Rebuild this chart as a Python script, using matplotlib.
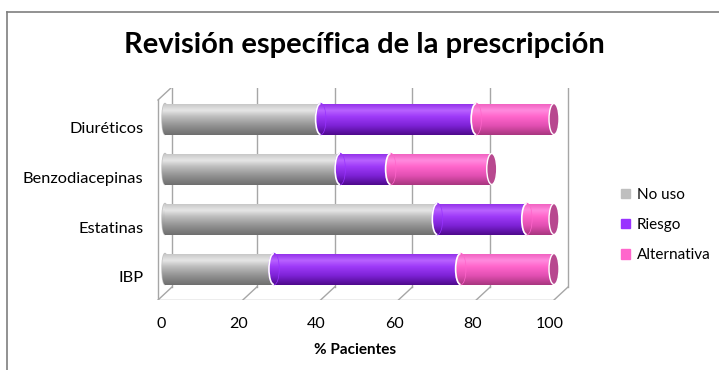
import numpy as np
import matplotlib
matplotlib.use('Agg')
import matplotlib.pyplot as plt
import matplotlib.transforms as mtransforms
from matplotlib.colors import LinearSegmentedColormap
from matplotlib.patches import Ellipse, Arc, Patch
from matplotlib.lines import Line2D

plt.rcParams['font.family'] = ['Lato', 'DejaVu Sans']

# datos (de abajo hacia arriba)
categorias = ['IBP', 'Estatinas', 'Benzodiacepinas', 'Diuréticos']
no_uso = [28, 70, 45, 40]
riesgo = [48, 23, 13, 40]
alternativa = [24, 7, 26, 20]
series = ['No uso', 'Riesgo', 'Alternativa']
xticks = [0, 20, 40, 60, 80, 100]

colores = ['#bfbfbf', '#9933ff', '#ff66cc']
cmaps = [
    LinearSegmentedColormap.from_list('gris', [(0, '#6e6e6e'), (0.3, '#929292'), (0.6, '#bdbdbd'),
                                               (0.8, '#e6e6e6'), (1, '#c8c8c8')]),
    LinearSegmentedColormap.from_list('morado', [(0, '#4f0a8c'), (0.3, '#7d22d6'), (0.6, '#9e3af8'),
                                                 (0.8, '#b862ff'), (1, '#9432ea')]),
    LinearSegmentedColormap.from_list('rosa', [(0, '#a8367f'), (0.3, '#e24fb2'), (0.6, '#ff66cc'),
                                               (0.8, '#ff8ade'), (1, '#f262c2')]),
]
color_tapa = '#b8488f'

W, H = 719, 370
fig = plt.figure(figsize=(7.19, 3.70), dpi=100)


def fx(px):
    return px / W


def fy(py):
    return 1 - py / H


ppx = 3.89  # pixeles por unidad de x
ax = fig.add_axes([fx(165 - 2 * ppx), fy(300), 106 * ppx / W, 212 / H])
ax.set_xlim(-2, 104)
ax.set_ylim(-0.62, 3.62)

alto = 0.62
cw = 10 / ppx   # ancho de la tapa en unidades de x
grad = np.linspace(0, 1, 100).reshape(-1, 1)


def shade(patch, extent, cmap, z):
    im = ax.imshow(grad, extent=extent, origin='lower', cmap=cmap, aspect='auto',
                   zorder=z, interpolation='bilinear')
    im.set_clip_path(patch)


# marco 3D
dx, dy = 14 / ppx, 13 / 50
y0, ytop = -0.62, 3.38
xl = -1.8
gc = '#a6a6a6'
ax.plot([xl, 100], [y0, y0], color=gc, lw=1, zorder=1)
for x in [xl] + xticks[1:]:
    ax.plot([x, x + dx], [y0, y0 + dy], color=gc, lw=1, zorder=1)
    ax.plot([x + dx, x + dx], [y0 + dy, ytop + dy], color=gc, lw=1, zorder=1)
ax.plot([xl, xl], [y0, ytop], color=gc, lw=1, zorder=1)
ax.plot([xl, xl + dx], [ytop, ytop + dy], color=gc, lw=1, zorder=1)

valores = [no_uso, riesgo, alternativa]
y = np.arange(len(categorias))
izq = np.zeros(len(categorias))
for s, vals in enumerate(valores):
    bars = ax.barh(y, vals, left=izq, height=alto, color=colores[s], zorder=3)
    for i, b in enumerate(bars):
        x0 = izq[i]
        shade(b, (x0, x0 + vals[i], y[i] - alto / 2, y[i] + alto / 2), cmaps[s], 3)
        if s == 0:
            e = Ellipse((x0, y[i]), cw * 0.6, alto, color=colores[s], zorder=2.9)
            ax.add_patch(e)
            shade(e, (x0 - cw, x0 + cw, y[i] - alto / 2, y[i] + alto / 2), cmaps[s], 2.9)
        else:
            e = Ellipse((x0, y[i]), cw, alto, color=colores[s], zorder=3.1)
            ax.add_patch(e)
            shade(e, (x0 - cw, x0 + cw, y[i] - alto / 2, y[i] + alto / 2), cmaps[s], 3.1)
            ax.add_patch(Arc((x0, y[i]), cw, alto, theta1=90, theta2=270,
                             color='white', lw=1.2, zorder=3.2))
    izq = izq + np.array(vals)

for i in range(len(categorias)):
    ax.add_patch(Ellipse((izq[i], y[i]), cw, alto, facecolor=color_tapa,
                         edgecolor='white', lw=1, zorder=3.3))

for sp in ax.spines.values():
    sp.set_visible(False)

ax.set_xticks(xticks)
ax.set_xticklabels([str(t) for t in xticks], fontsize=11.5)
ax.tick_params(axis='x', length=0, pad=12)
ax.set_yticks(y)
ax.set_yticklabels(categorias, fontsize=11.8)
ax.tick_params(axis='y', length=0, pad=10)
off_x = mtransforms.ScaledTranslation(-4 / 100, 0, fig.dpi_scale_trans)
off_y = mtransforms.ScaledTranslation(0, -8 / 100, fig.dpi_scale_trans)
for t in ax.get_xticklabels():
    t.set_transform(t.get_transform() + off_x)
for t in ax.get_yticklabels():
    t.set_transform(t.get_transform() + off_y)

fig.text(fx(355), fy(350), '% Pacientes', ha='center', va='center', fontsize=11, fontweight='bold')
fig.text(fx(364), fy(45), 'Revisión específica de la prescripción', ha='center', va='center',
         fontsize=21, fontweight='bold')

handles = [Patch(color=c) for c in colores]
fig.legend(handles, series, loc='center left', bbox_to_anchor=(fx(607), fy(225)), frameon=False,
           fontsize=11, handlelength=0.6, handleheight=0.6, labelspacing=1.05, handletextpad=0.45)

fig.add_artist(Line2D([fx(7), fx(7)], [0, fy(12)], color='#7f7f7f', lw=1.2))
fig.add_artist(Line2D([fx(7), 1], [fy(12), fy(12)], color='#7f7f7f', lw=1.2))

fig.savefig('out.png', dpi=100)
